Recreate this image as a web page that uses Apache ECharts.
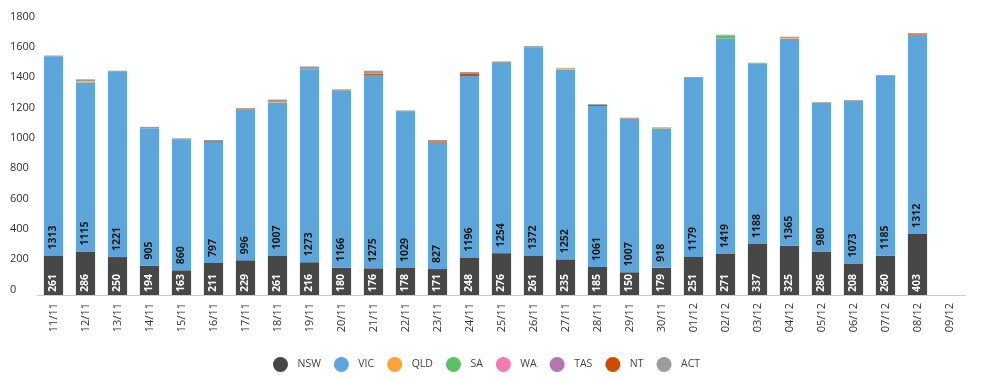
<!DOCTYPE html>
<html>
<head>
<meta charset="utf-8">
<script src="https://cdn.jsdelivr.net/npm/echarts@6/dist/echarts.min.js"></script>
<style>html,body{margin:0;padding:0;background:#fff}#c{width:982px;height:380px}</style>
</head>
<body>
<div id="c"></div>
<script>
const categories = ['11/11','12/11','13/11','14/11','15/11','16/11','17/11','18/11','19/11','20/11','21/11','22/11','23/11','24/11','25/11','26/11','27/11','28/11','29/11','30/11','01/12','02/12','03/12','04/12','05/12','06/12','07/12','08/12','09/12'];
const NSW = [261,286,250,194,163,211,229,261,216,180,176,178,171,248,276,261,235,185,150,179,251,271,337,325,286,208,260,403,null];
const VIC = [1313,1115,1221,905,860,797,996,1007,1273,1166,1275,1029,827,1196,1254,1372,1252,1061,1007,918,1179,1419,1188,1365,980,1073,1185,1312,null];
const QLD = [0,8,0,0,0,0,0,3,0,0,0,0,0,0,0,0,8,0,0,3,0,0,0,5,0,0,0,0,null];
const SA  = [0,0,0,0,0,0,0,0,0,0,0,0,0,0,0,0,0,0,0,0,0,22,6,0,0,0,5,0,null];
const WA  = [0,0,0,0,0,0,0,0,0,0,0,0,0,0,0,0,0,0,0,0,0,0,0,0,0,0,0,2,null];
const TAS = [0,0,0,0,0,0,0,0,0,0,0,0,0,0,0,0,0,0,0,0,0,0,0,0,0,0,0,0,null];
const NT  = [0,0,0,0,0,6,5,0,0,0,8,0,9,18,0,0,0,8,6,0,0,0,0,0,0,0,0,8,null];
const ACT = [5,13,8,10,10,8,3,18,18,10,20,10,15,8,10,8,3,5,6,5,7,4,0,8,5,5,0,0,null];
const yTicks = [0,200,400,600,800,1000,1200,1400,1600,1800];

const FONT = '"Open Sans", "Noto Sans", sans-serif';
const colors = {NSW:'#474747',VIC:'#5da5da',QLD:'#faa43a',SA:'#60bd68',WA:'#f17cb0',TAS:'#b276b2',NT:'#d04a02',ACT:'#9c9c9c'};
const seriesData = {NSW,VIC,QLD,SA,WA,TAS,NT,ACT};

const series = Object.keys(seriesData).map(name => {
  const s = {
    name, type:'bar', stack:'total', data: seriesData[name],
    barCategoryGap:'40%',
    itemStyle:{color:colors[name]},
    emphasis:{disabled:true}
  };
  if (name === 'NSW' || name === 'VIC') {
    s.label = {
      show:true, position:'insideBottom', rotate:90, align:'left', verticalAlign:'middle',
      distance: name === 'NSW' ? 3 : 6,
      color: name === 'NSW' ? '#ffffff' : '#1a1a1a',
      fontFamily: FONT, fontWeight:'bold', fontSize:10.5
    };
  }
  return s;
});

const chart = echarts.init(document.getElementById('c'), null, {renderer:'canvas'});
chart.setOption({
  animation:false,
  color: Object.values(colors),
  grid:{left:37.5, right:16.5, top:22, bottom:85, containLabel:false},
  legend:{
    data:Object.keys(seriesData), left:268, top:352,
    icon:'circle', itemWidth:24, itemHeight:15, itemGap:13,
    textStyle:{color:'#444', fontFamily:FONT, fontSize:10.5}
  },
  xAxis:{
    type:'category', data:categories,
    axisLine:{lineStyle:{color:'#cccccc'}},
    axisTick:{show:false},
    axisLabel:{rotate:90, interval:0, color:'#333', fontFamily:FONT, fontSize:11, margin:8}
  },
  yAxis:{
    type:'value', min:0, max:1800, interval:200,
    axisLine:{show:false}, axisTick:{show:false}, splitLine:{show:false},
    axisLabel:{align:'left', verticalAlign:'bottom', margin:27.5, color:'#333', fontFamily:FONT, fontSize:11,
      formatter: v => yTicks.includes(v) ? String(v) : ''}
  },
  series
});
</script>
</body>
</html>
